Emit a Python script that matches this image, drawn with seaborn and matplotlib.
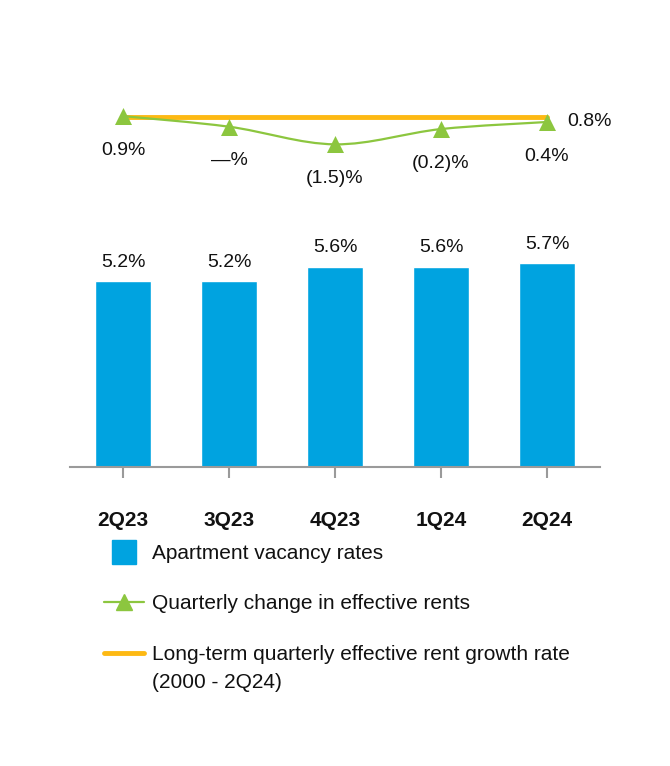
import numpy as np
import pandas as pd
import matplotlib
matplotlib.use("Agg")
import matplotlib.pyplot as plt
from matplotlib.path import Path
from matplotlib.patches import PathPatch
from matplotlib.lines import Line2D
import seaborn as sns

# ---- data ----
quarters = ["2Q23", "3Q23", "4Q23", "1Q24", "2Q24"]
vacancy = [5.2, 5.2, 5.6, 5.6, 5.7]
vacancy_labels = ["5.2%", "5.2%", "5.6%", "5.6%", "5.7%"]
rent_change = [0.9, 0.0, -1.5, -0.2, 0.4]
rent_labels = ["0.9%", "\u2014%", "(1.5)%", "(0.2)%", "0.4%"]
long_term_rate = 0.8
long_term_label = "0.8%"
legend_labels = [
    "Apartment vacancy rates",
    "Quarterly change in effective rents",
    "Long-term quarterly effective rent growth rate\n(2000 - 2Q24)",
]

BLUE = "#00A3E0"
GREEN = "#8CC63F"
ORANGE = "#FDB913"

sns.set_theme(style="white")
plt.rcParams["font.family"] = ["Liberation Sans", "DejaVu Sans"]

df = pd.DataFrame({"quarter": quarters, "vacancy": vacancy,
                   "rent": rent_change, "lt": [long_term_rate] * len(quarters)})
df["x"] = np.arange(len(quarters))

fig = plt.figure(figsize=(6.7, 7.66), dpi=100)
W, H = 670, 766
ax = fig.add_axes([70 / W, (H - 467) / H, 530 / W, 377 / H])

sns.barplot(data=df, x="quarter", y="vacancy", color=BLUE, width=0.53,
            saturation=1, ax=ax)
ax.set_xlim(-0.5, 4.5)
ax.set_ylim(0, 377 / 35.8)
ax.set_xlabel("")
ax.set_ylabel("")
ax.set_yticks([])
for s in ["top", "right", "left"]:
    ax.spines[s].set_visible(False)
ax.spines["bottom"].set_color("#9a9a9a")
ax.spines["bottom"].set_linewidth(1.5)
ax.tick_params(axis="x", length=8, width=1.5, color="#9a9a9a", direction="out",
               pad=24, labelsize=15)
ax.tick_params(axis="x", bottom=True)
for t in ax.get_xticklabels():
    t.set_fontweight("bold")
    t.set_color("#111111")

for i, (v, lab) in enumerate(zip(vacancy, vacancy_labels)):
    ax.annotate(lab, (i, v), xytext=(0, 13.5), textcoords="offset points",
                ha="center", va="center", fontsize=14, color="#111111")

# ---- line axis ----
ax2 = ax.twinx()
slope = 11.76
zero_px = 126.7
ax2.set_ylim(-(467 - zero_px) / slope, (zero_px - 90) / slope)
ax2.set_yticks([])
for s in ax2.spines.values():
    s.set_visible(False)

sns.lineplot(data=df, x="x", y="lt", color=ORANGE, linewidth=3.5, ax=ax2,
             legend=False, zorder=2)

# smooth curve through the rent points (Catmull-Rom -> Bezier)
xs = df["x"].to_numpy(float)
ys = df["rent"].to_numpy(float)
verts = [(xs[0], ys[0])]
codes = [Path.MOVETO]
n = len(xs)
for i in range(n - 1):
    p0 = np.array([xs[max(i - 1, 0)], ys[max(i - 1, 0)]])
    p1 = np.array([xs[i], ys[i]])
    p2 = np.array([xs[i + 1], ys[i + 1]])
    p3 = np.array([xs[min(i + 2, n - 1)], ys[min(i + 2, n - 1)]])
    c1 = p1 + (p2 - p0) / 6
    c2 = p2 - (p3 - p1) / 6
    verts += [tuple(c1), tuple(c2), tuple(p2)]
    codes += [Path.CURVE4] * 3
ax2.add_patch(PathPatch(Path(verts, codes), facecolor="none", edgecolor=GREEN,
                        linewidth=1.6, zorder=3))
sns.scatterplot(data=df, x="x", y="rent", marker="^", s=150, color=GREEN,
                edgecolor=GREEN, linewidth=0, ax=ax2, zorder=4, legend=False)
ax2.set_xlim(-0.5, 4.5)
ax2.set_xlabel("")
ax2.set_ylabel("")

for i, (v, lab) in enumerate(zip(rent_change, rent_labels)):
    ax2.annotate(lab, (i, v), xytext=(0, -24.5), textcoords="offset points",
                 ha="center", va="center", fontsize=14, color="#111111")
ax2.annotate(long_term_label, (len(quarters) - 1, long_term_rate), xytext=(14.5, -3),
             textcoords="offset points", ha="left", va="center", fontsize=14,
             color="#111111")

# ---- legend ----
handles = [
    Line2D([], [], linestyle="none", marker="s", markersize=17,
           markerfacecolor=BLUE, markeredgecolor=BLUE),
    Line2D([], [], color=GREEN, linewidth=1.6, marker="^", markersize=11,
           markerfacecolor=GREEN, markeredgecolor=GREEN),
    Line2D([], [], color=ORANGE, linewidth=3.5),
]
leg = fig.legend(handles, legend_labels, loc="upper left",
                 bbox_to_anchor=(104 / W, 1 - 544 / H), frameon=False, fontsize=15,
                 handlelength=1.9, handletextpad=0.38, labelspacing=1.5,
                 borderpad=0, borderaxespad=0, labelcolor="#111111")
leg.get_texts()[2].set_linespacing(1.65)
# align the long-term handle with the first line of its label
lt_handle = leg.legend_handles[2]
lt_handle.set_ydata(np.asarray(lt_handle.get_ydata()) + 11.5)

fig.savefig("out.png", dpi=100, facecolor="white")
